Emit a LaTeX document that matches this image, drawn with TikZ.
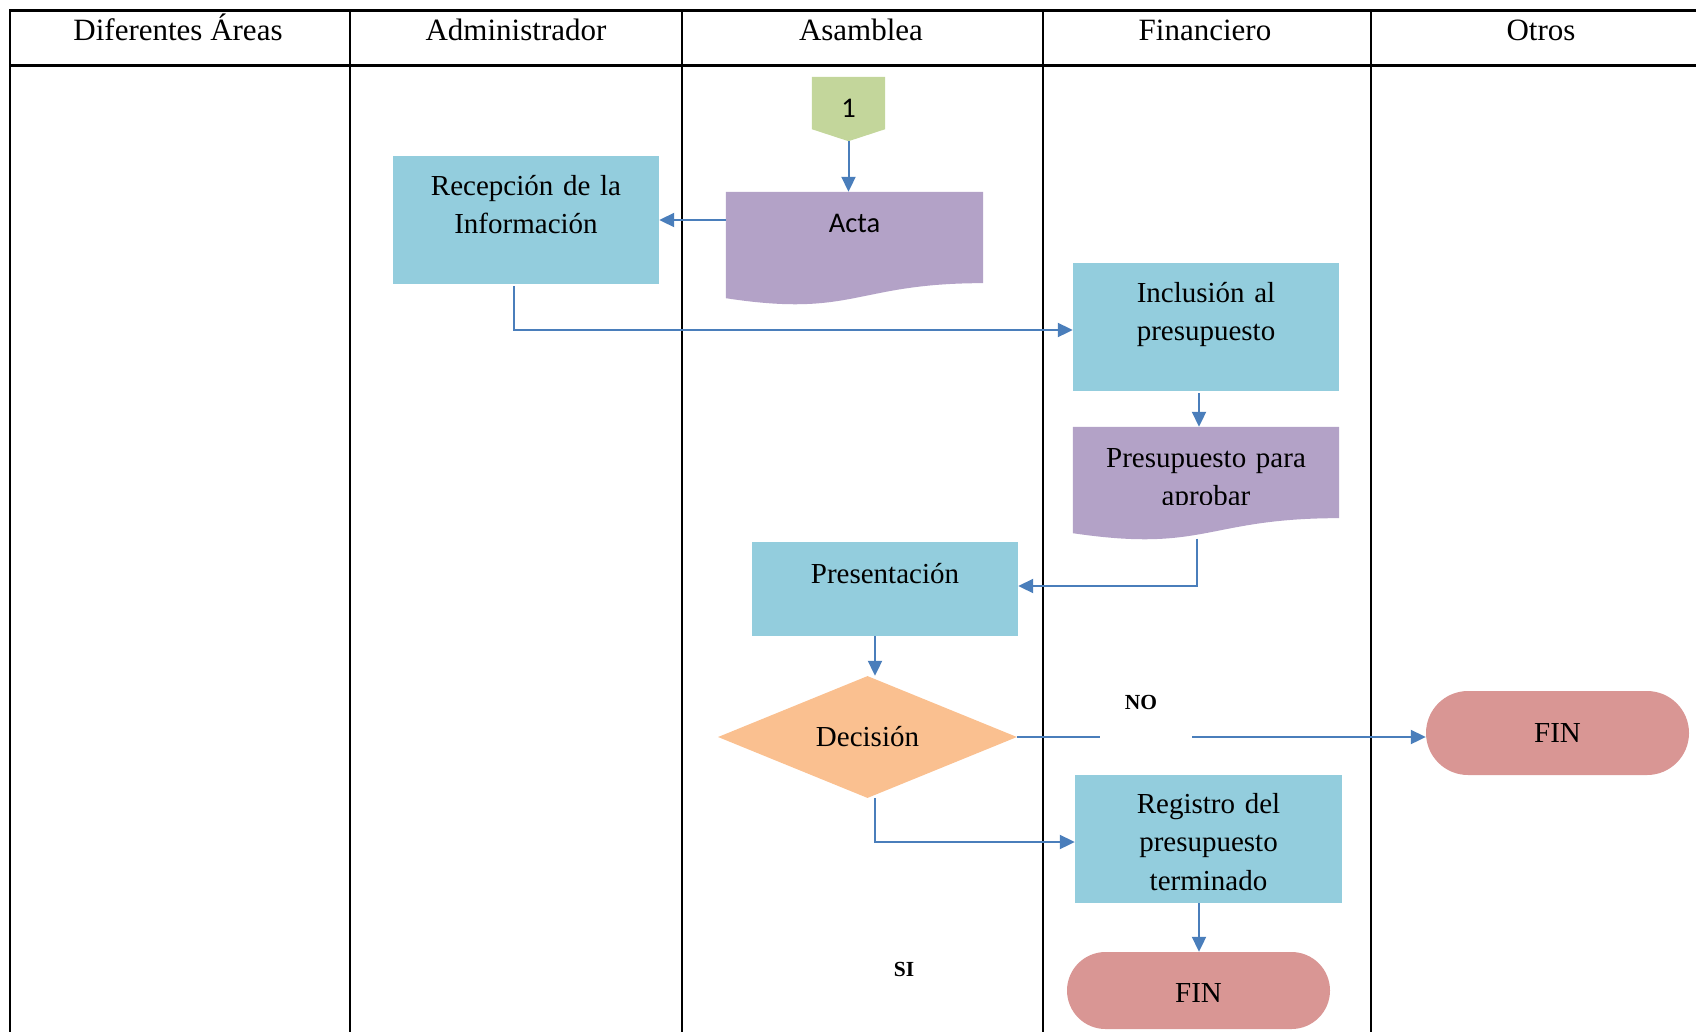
\documentclass[tikz,border=0pt]{standalone}
\usepackage{fontspec}
\setmainfont{Liberation Serif}
\newfontfamily\sansbody{Carlito}
\usetikzlibrary{arrows.meta,calc,shapes.geometric,shapes.misc}

\definecolor{procblue}{HTML}{93CDDD}
\definecolor{docpurple}{HTML}{B3A2C7}
\definecolor{decorange}{HTML}{FAC090}
\definecolor{endred}{HTML}{D99694}
\definecolor{conngreen}{HTML}{C3D69B}
\definecolor{linkblue}{HTML}{4A7EBB}

% wavy "document" flowchart symbol filled inside the frame of a node
\newcommand\docfill[2]{%
  \fill[#2] (#1.north west) -- (#1.north east)
    -- ($(#1.north east)!0.802!(#1.south east)$)
    .. controls ($(#1.north)!0.802!(#1.south)$) and ($(#1.north)!1.1075!(#1.south)$) ..
    ($(#1.north west)!0.934!(#1.south west)$) -- cycle;}

\tikzset{
  frame/.style={line width=2.5pt, line cap=rect},
  headtxt/.style={font=\fontsize{31}{37}\selectfont, anchor=base, inner sep=0pt},
  blank/.style={rectangle, inner sep=0pt, draw=none},
  proc/.style={rectangle, fill=procblue, inner sep=0pt},
  decision/.style={diamond, fill=decorange, inner sep=0pt},
  terminal/.style={rounded rectangle, fill=endred, inner sep=0pt},
  txt/.style={font=\fontsize{29}{38.5}\selectfont, text width=300pt, align=center,
              anchor=base, inner sep=0pt},
  sanstxt/.style={font=\sansbody\fontsize{28.5}{34}\selectfont, anchor=base, inner sep=0pt},
  answer/.style={font=\bfseries\fontsize{21.5}{26}\selectfont, anchor=base, inner sep=0pt},
  link/.style={draw=linkblue, line width=2pt},
  arr/.style={link, -{Triangle[length=15pt,width=14pt]}},
}

\begin{document}
\begin{tikzpicture}[x=1pt,y=-1pt]
\useasboundingbox (0,0) rectangle (1696,1031);

% ---- swimlane table ----
\draw[line width=3pt] (10,10) -- (1696,10);
\draw[frame] (10,65.5) -- (1696,65.5);
\foreach \lx in {10,350,682,1043,1371}
  \draw[frame] (\lx,10) -- (\lx,1031);

\node[headtxt] (hAreas) at (178,40)  {Diferentes Áreas};
\node[headtxt] (hAdmin) at (516,40)  {Administrador};
\node[headtxt] (hAsam)  at (861,40)  {Asamblea};
\node[headtxt] (hFin)   at (1205,40) {Financiero};
\node[headtxt] (hOtros) at (1541,40) {Otros};

% ---- off-page connector ----
\node[blank, minimum width=73, minimum height=64] (one) at (848.5,109) {};
\fill[conngreen] (one.north west) -- (one.north east) -- ($(one.south east)+(0,-12)$)
  -- (one.south) -- ($(one.south west)+(0,-12)$) -- cycle;
\node[sanstxt] (oneT) at (848.5,117) {1};

% ---- Acta (document) ----
\node[blank, minimum width=257, minimum height=113.5] (acta) at (854.5,248.75) {};
\docfill{acta}{docpurple}
\node[sanstxt] (actaT) at (854.5,232) {Acta};

% ---- Recepción ----
\node[proc, minimum width=266, minimum height=128] (recep) at (526,220) {};
\node[txt] (recepT) at (526,195) {Recepción de la\\Información};

% ---- Inclusión ----
\node[proc, minimum width=266, minimum height=128] (incl) at (1206,327) {};
\node[txt] (inclT) at (1206,302) {Inclusión al\\presupuesto};

% ---- Presupuesto para aprobar (document) ----
\node[blank, minimum width=266, minimum height=113.5] (pres) at (1206,483.75) {};
\docfill{pres}{docpurple}
\begin{scope}
  \clip (1073,427) rectangle (1339,504.5);
  \node[txt] (presT) at (1206,467) {Presupuesto para\\aprobar};
\end{scope}

% ---- Presentación ----
\node[proc, minimum width=266, minimum height=94] (prest) at (885,589) {};
\node[txt] (prestT) at (885,583) {Presentación};

% ---- Decisión ----
\node[decision, minimum width=299, minimum height=122] (dec) at (867.5,737) {};
\node[txt] (decT) at (867.5,746) {Decisión};

% ---- FIN (Otros) ----
\node[terminal, minimum width=263, minimum height=84] (fin1) at (1557.5,733) {};
\node[txt] (fin1T) at (1557.5,742) {FIN};

% ---- Registro ----
\node[proc, minimum width=267, minimum height=128] (reg) at (1208.5,839) {};
\begin{scope}
  \clip (1075,775) rectangle (1342,890);
  \node[txt] (regT) at (1208.5,813) {Registro del\\presupuesto\\terminado};
\end{scope}

% ---- FIN (Financiero) ----
\node[terminal, minimum width=263, minimum height=77] (fin2) at (1198.5,990.5) {};
\node[txt] (fin2T) at (1198.5,1002) {FIN};

% ---- answer labels ----
\node[answer] (no) at (1141,709) {NO};
\node[answer] (si) at (904,976) {SI};

% ---- connectors ----
\draw[arr] (one.south) -- (one.south |- acta.north);
\draw[arr] (acta.west |- recep.east) -- (recep.east);
\draw[arr] ($(recep.south)+(-12,2)$) |- ($(incl.west)+(0,3)$);

\coordinate (c1) at ($(incl.south)+(-7,2)$);
\draw[arr] (c1) -- (c1 |- pres.north);

\coordinate (c2) at ($(pres.south)+(-9,-2)$);
\draw[arr] (c2) |- ($(prest.east)+(0,-3)$);

\coordinate (c3) at ($(prest.south)+(-10,0)$);
\draw[arr] (c3) -- (c3 |- dec.north);

\coordinate (gapL) at (1100,737);
\coordinate (gapR) at (1192,737);
\draw[link] (dec.east) -- (gapL);
\draw[arr] (gapR) -- (gapR -| fin1.west);

\coordinate (c4) at ($(dec.south)+(7.5,0)$);
\draw[arr] (c4) |- ($(reg.west)+(0,3)$);

\coordinate (c5) at ($(reg.south)+(-9.5,0)$);
\draw[arr] (c5) -- (c5 |- fin2.north);
\end{tikzpicture}
\end{document}
